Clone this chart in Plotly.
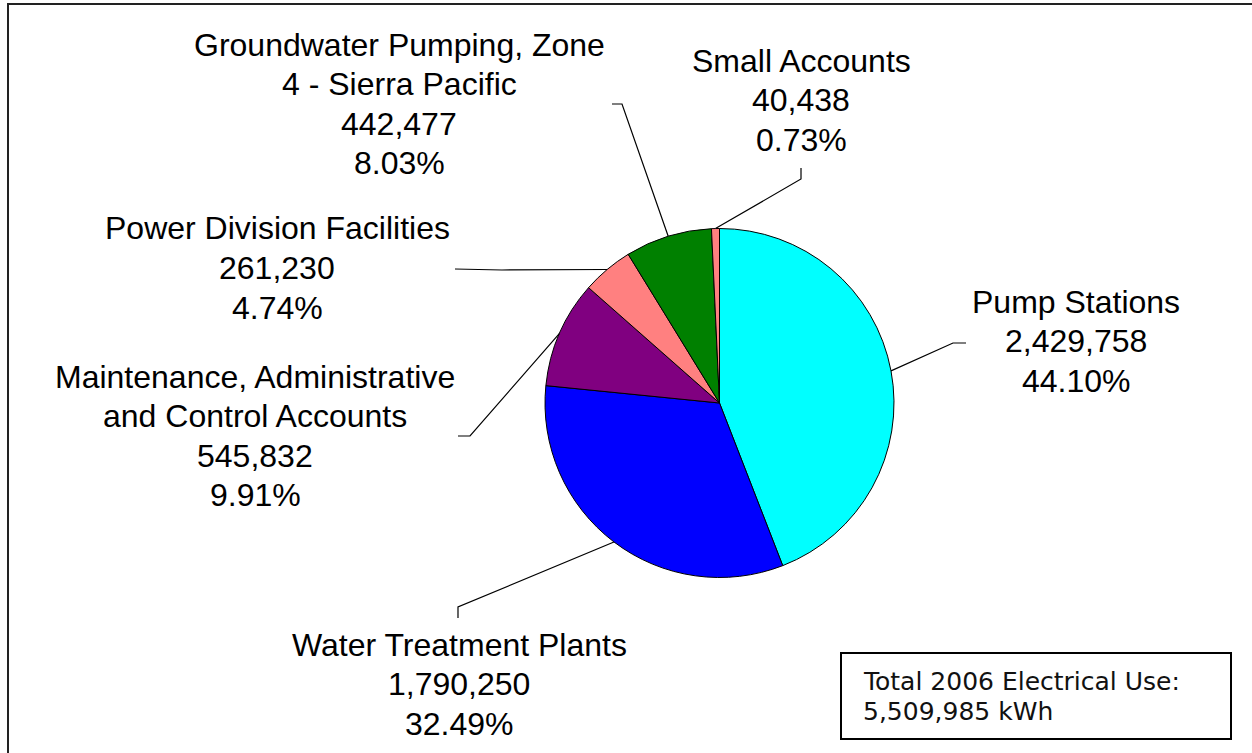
import math
import plotly.graph_objects as go

W, H = 1252, 753

categories = [
    "Pump Stations",
    "Water Treatment Plants",
    "Maintenance, Administrative|and Control Accounts",
    "Power Division Facilities",
    "Groundwater Pumping, Zone|4 - Sierra Pacific",
    "Small Accounts",
]
values = [2429758, 1790250, 545832, 261230, 442477, 40438]
colors = ["#00FFFF", "#0000FF", "#800080", "#FF8080", "#008000", "#FF8080"]
total_lines = ["Total 2006 Electrical Use:", "5,509,985 kWh"]

# layout (pixel positions of label blocks & leader elbows)
label_pos = [(1076, 341), (459, 684), (255, 436), (277, 268), (399, 104), (801, 100)]
leader_pts = [
    [(953, 343), (966, 343)],
    [(458, 607), (458, 618)],
    [(470, 436), (458, 436)],
    [(502, 270), (455, 269)],
    [(622, 104), (612, 104)],
    [(801, 179), (801, 168)],
]
LINE_H = 39.5

cx, cy, R = 719.5, 403.0, 174.5


def px(x):
    return x / W


def py(y):
    return 1 - y / H


fig = go.Figure()
fig.add_trace(go.Pie(
    labels=[c.replace("|", " ") for c in categories],
    values=values,
    sort=False,
    direction="clockwise",
    rotation=0,
    marker=dict(colors=colors, line=dict(color="black", width=1)),
    textinfo="none",
    domain=dict(x=[px(cx - R), px(cx + R)], y=[py(cy + R), py(cy - R)]),
    showlegend=False,
))

tot = sum(values)
cum = 0.0
shapes = []
annotations = []
for i, v in enumerate(values):
    frac_mid = (cum + v / 2) / tot
    cum += v
    ang = 2 * math.pi * frac_mid
    sx = cx + R * math.sin(ang)
    sy = cy - R * math.cos(ang)
    pts = [(sx, sy)] + leader_pts[i]
    path = "M " + " L ".join(f"{px(x):.5f},{py(y):.5f}" for x, y in pts)
    shapes.append(dict(type="path", xref="paper", yref="paper", path=path,
                       line=dict(color="black", width=1.2)))
    pct = v / tot * 100
    lines = categories[i].split("|") + [f"{v:,}", f"{pct:.2f}%"]
    lx, ly = label_pos[i]
    n = len(lines)
    for k, t in enumerate(lines):
        yy = ly + (k - (n - 1) / 2) * LINE_H
        annotations.append(dict(
            x=px(lx), y=py(yy), xref="paper", yref="paper", text=t,
            showarrow=False, xanchor="center", yanchor="middle",
            font=dict(family="Liberation Sans, Arial", size=32, color="black"),
        ))

# outer frame
shapes.append(dict(type="rect", xref="paper", yref="paper",
                   x0=px(8), x1=1.02, y0=-0.02, y1=py(4),
                   line=dict(color="#222222", width=2)))
# total box
shapes.append(dict(type="rect", xref="paper", yref="paper",
                   x0=px(841), x1=px(1231), y0=py(739), y1=py(653),
                   line=dict(color="black", width=2), fillcolor="white"))
for k, t in enumerate(total_lines):
    annotations.append(dict(
        x=px(861), y=py(681 + 30 * k), xref="paper", yref="paper", text=t,
        showarrow=False, xanchor="left", yanchor="middle",
        font=dict(family="DejaVu Sans", size=25, color="#111111"),
    ))

fig.update_layout(
    width=W, height=H,
    margin=dict(l=0, r=0, t=0, b=0),
    paper_bgcolor="white", plot_bgcolor="white",
    shapes=shapes, annotations=annotations,
    showlegend=False,
)

fig.write_html("out.html",
               config={"displayModeBar": False},
               post_script="document.body.style.margin='0';document.body.style.overflow='hidden';")
